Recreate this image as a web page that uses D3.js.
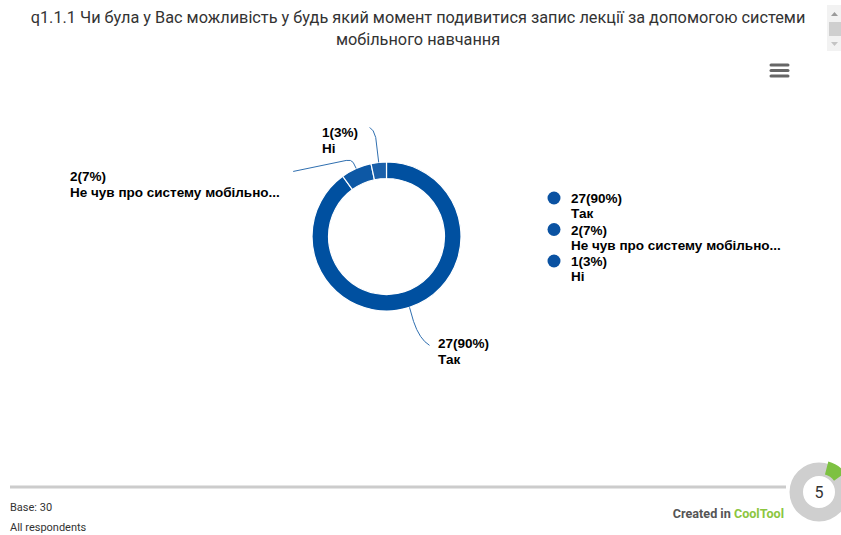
<!DOCTYPE html>
<html>
<head>
<meta charset="utf-8">
<script src="https://cdn.jsdelivr.net/npm/d3@7"></script>
<style>
  html, body { margin: 0; padding: 0; background: #fff; }
  svg { display: block; }
</style>
</head>
<body>
<svg id="chart" width="841" height="535"></svg>
<script>
// Survey answers
const categories = ["Так", "Не чув про систему мобільно...", "Ні"];
const counts = [27, 2, 1];
const percents = [90, 7, 3];
const sliceColors = ["#0050a0", "#0d58a5", "#1a60aa"];
const legendColor = "#0a52a2";
const titleLines = [
  "q1.1.1 Чи була у Вас можливість у будь який момент подивитися запис лекції за допомогою системи",
  "мобільного навчання"
];
const baseLabel = "Base: 30";
const audienceLabel = "All respondents";
const pageNumber = "5";

const svg = d3.select("#chart");
const labelFont = "'Liberation Sans', Arial, sans-serif";
const labelSize = 13.5;

// Title
svg.append("g").selectAll("text").data(titleLines).join("text")
  .attr("x", 418).attr("y", (d, i) => 23 + i * 22)
  .attr("text-anchor", "middle")
  .attr("font-family", "Roboto, 'Liberation Sans', sans-serif")
  .attr("font-size", 16.3).attr("fill", "#333")
  .text(d => d);

// Scrollbar at the right edge
const sb = svg.append("g");
sb.append("rect").attr("x", 827).attr("y", 5).attr("width", 14).attr("height", 46).attr("fill", "#f2f2f2");
sb.append("rect").attr("x", 829).attr("y", 22).attr("width", 12).attr("height", 14).attr("fill", "#cfcfcf");
sb.append("path").attr("d", "M831,16 L834.5,12 L838,16 Z").attr("fill", "#9a9a9a");
sb.append("path").attr("d", "M831,42 L834.5,46 L838,42 Z").attr("fill", "#c4c4c4");

// Menu icon
svg.append("g").selectAll("line").data([0, 1, 2]).join("line")
  .attr("x1", 771).attr("x2", 788)
  .attr("y1", d => 65 + d * 5.5).attr("y2", d => 65 + d * 5.5)
  .attr("stroke", "#666").attr("stroke-width", 3).attr("stroke-linecap", "round");

// Donut
const cx = 386.5, cy = 236.5, rOuter = 74.5, rInner = 58;
const data = categories.map((c, i) => ({ cat: c, count: counts[i], pct: percents[i], color: sliceColors[i] }));
const pie = d3.pie().value(d => d.count).sort(null);
const arcs = pie(data);
const arc = d3.arc().innerRadius(rInner).outerRadius(rOuter);

const donut = svg.append("g").attr("transform", `translate(${cx},${cy})`);
donut.selectAll("path").data(arcs).join("path")
  .attr("d", arc)
  .attr("fill", d => d.data.color)
  .attr("stroke", "#fff").attr("stroke-width", 1.2);

// Data labels with connectors
function edgePoint(a, r) {
  const m = (a.startAngle + a.endAngle) / 2;
  return [cx + r * Math.sin(m), cy - r * Math.cos(m)];
}
const labelLayout = [
  { tx: 438, ty: 348, path: (p) => `M${p[0]},${p[1]} L${p[0] + 4},${p[1] + 14} Q${p[0] + 10},${p[1] + 32} ${p[0] + 20},${p[1] + 38}` },
  { tx: 70, ty: 181, path: (p) => `M${p[0]},${p[1]} L${p[0] - 3},${p[1] - 6} Q${p[0] - 5},${p[1] - 9} ${p[0] - 10},${p[1] - 8} L${p[0] - 63},${p[1] + 3}` },
  { tx: 322, ty: 137, path: (p) => `M${p[0]},${p[1]} L${p[0] - 3},${p[1] - 25} Q${p[0] - 5},${p[1] - 33} ${p[0] - 9},${p[1] - 35}` }
];
const lbl = svg.append("g");
arcs.forEach((a, i) => {
  const p = edgePoint(a, rOuter);
  lbl.append("path").attr("d", labelLayout[i].path(p))
    .attr("fill", "none").attr("stroke", "#2f6fb0").attr("stroke-width", 1);
  const t = lbl.append("text")
    .attr("x", labelLayout[i].tx).attr("y", labelLayout[i].ty)
    .attr("font-family", labelFont).attr("font-size", labelSize).attr("font-weight", "bold")
    .attr("fill", "#000");
  t.append("tspan").attr("x", labelLayout[i].tx).text(`${a.data.count}(${a.data.pct}%)`);
  t.append("tspan").attr("x", labelLayout[i].tx).attr("dy", 16).text(a.data.cat);
});

// Legend
const legend = svg.append("g").attr("transform", "translate(554,198)");
const items = legend.selectAll("g").data(data).join("g")
  .attr("transform", (d, i) => `translate(0,${i * 31.5})`);
items.append("circle").attr("r", 6.5).attr("fill", legendColor);
const lt = items.append("text")
  .attr("font-family", labelFont).attr("font-size", labelSize).attr("font-weight", "bold").attr("fill", "#000");
lt.append("tspan").attr("x", 17).attr("y", 5).text(d => `${d.count}(${d.pct}%)`);
lt.append("tspan").attr("x", 17).attr("y", 20).text(d => d.cat);

// Footer
svg.append("line").attr("x1", 10).attr("x2", 786).attr("y1", 487).attr("y2", 487)
  .attr("stroke", "#cccccc").attr("stroke-width", 3);
const footFont = "Roboto, 'Liberation Sans', sans-serif";
svg.append("text").attr("x", 10).attr("y", 511).attr("font-family", footFont)
  .attr("font-size", 11).attr("fill", "#333").text(baseLabel);
svg.append("text").attr("x", 10).attr("y", 531).attr("font-family", footFont)
  .attr("font-size", 11).attr("fill", "#333").text(audienceLabel);
const created = svg.append("text").attr("x", 784).attr("y", 518).attr("text-anchor", "end")
  .attr("font-family", footFont).attr("font-size", 12.6).attr("font-weight", "bold");
created.append("tspan").attr("fill", "#555").text("Created in ");
created.append("tspan").attr("fill", "#8cc63f").text("CoolTool");

// Page badge
const badge = svg.append("g").attr("transform", "translate(819,492)");
badge.append("path").attr("d", d3.arc().innerRadius(16).outerRadius(29.5)({ startAngle: 0, endAngle: 2 * Math.PI }))
  .attr("fill", "#cfcfcf");
badge.append("path").attr("d", d3.arc().innerRadius(16).outerRadius(29.5)({ startAngle: 0.25, endAngle: 0.95 }))
  .attr("fill", "#7dc142").attr("transform", "translate(2,-2)");
badge.append("text").attr("x", 0).attr("y", 6).attr("text-anchor", "middle")
  .attr("font-family", footFont).attr("font-size", 16).attr("fill", "#333").text(pageNumber);
</script>
</body>
</html>
